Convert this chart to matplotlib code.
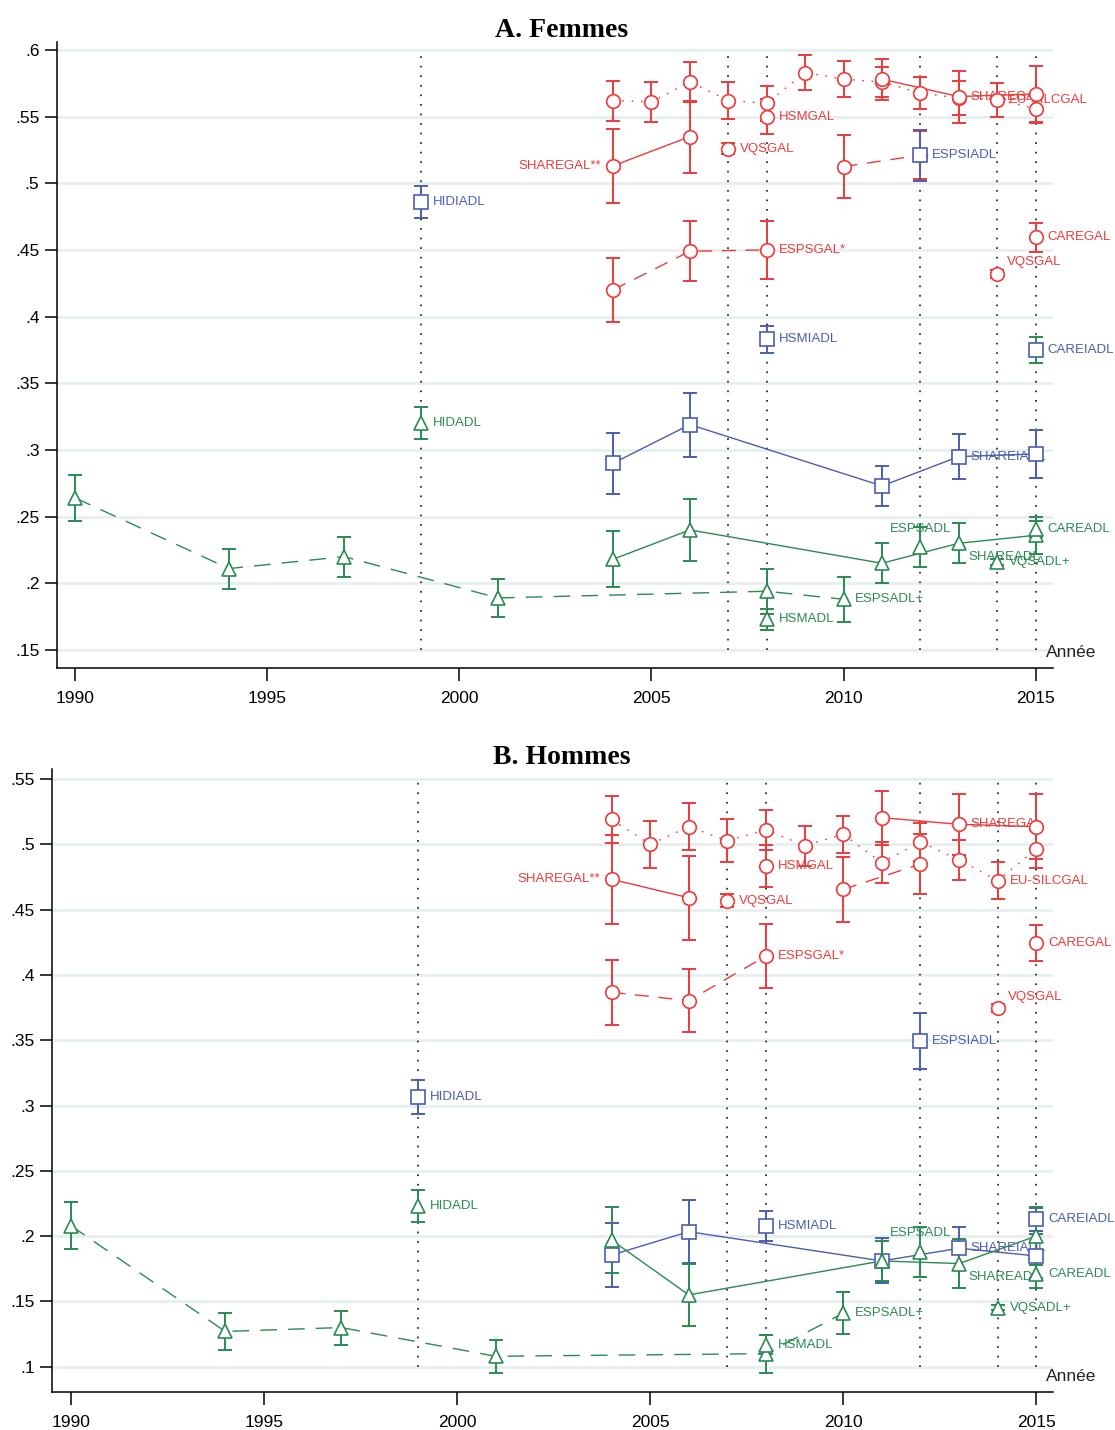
import matplotlib
matplotlib.use("Agg")
import matplotlib.pyplot as plt

plt.rcParams['font.family'] = ['Liberation Sans', 'DejaVu Sans']

# ---------------- data ----------------
YEAR_TICKS = [1990, 1995, 2000, 2005, 2010, 2015]
VLINE_YEARS = [1999, 2007, 2008, 2012, 2014, 2015]

W_YTICKS = [0.15, 0.2, 0.25, 0.3, 0.35, 0.4, 0.45, 0.5, 0.55, 0.6]
W_YTICKLABELS = ['.15', '.2', '.25', '.3', '.35', '.4', '.45', '.5', '.55', '.6']
M_YTICKS = [0.1, 0.15, 0.2, 0.25, 0.3, 0.35, 0.4, 0.45, 0.5, 0.55]
M_YTICKLABELS = ['.1', '.15', '.2', '.25', '.3', '.35', '.4', '.45', '.5', '.55']

ESPS_ADLP_YEARS = [1990, 1994, 1997, 2001, 2008, 2010]
SHARE_YEARS = [2004, 2006, 2011, 2013, 2015]
SHAREGAL_OLD_YEARS = [2004, 2006]
SHAREGAL_YEARS = [2011, 2013, 2015]
EUSILC_YEARS = [2004, 2005, 2006, 2007, 2008, 2009, 2010, 2011, 2012, 2013, 2014, 2015]
ESPSGAL_OLD_YEARS = [2004, 2006, 2008]
ESPSGAL_YEARS = [2010, 2012]
VQSGAL_YEARS = [2007, 2014]

# Femmes
W_ESPSADLP = [0.264, 0.211, 0.220, 0.189, 0.194, 0.188]
W_ESPSADLP_ERR = [0.017, 0.015, 0.015, 0.014, 0.017, 0.017]
W_HIDADL = [0.320]; W_HIDADL_ERR = [0.012]
W_HIDIADL = [0.486]; W_HIDIADL_ERR = [0.012]
W_SHAREADL = [0.218, 0.240, 0.215, 0.230, 0.236]
W_SHAREADL_ERR = [0.021, 0.023, 0.015, 0.015, 0.014]
W_SHAREIADL = [0.290, 0.319, 0.273, 0.295, 0.297]
W_SHAREIADL_ERR = [0.023, 0.024, 0.015, 0.017, 0.018]
W_SHAREGAL_OLD = [0.513, 0.535]; W_SHAREGAL_OLD_ERR = [0.028, 0.027]
W_SHAREGAL = [0.578, 0.565, 0.567]; W_SHAREGAL_ERR = [0.0155, 0.0195, 0.021]
W_EUSILC = [0.562, 0.561, 0.576, 0.562, 0.560, 0.583, 0.578, 0.576, 0.5675, 0.564, 0.5625, 0.556]
W_EUSILC_ERR = [0.015, 0.015, 0.015, 0.014, 0.013, 0.013, 0.0135, 0.011, 0.012, 0.013, 0.0125, 0.011]
W_ESPSGAL_OLD = [0.420, 0.449, 0.450]; W_ESPSGAL_OLD_ERR = [0.024, 0.0225, 0.022]
W_ESPSGAL = [0.5125, 0.521]; W_ESPSGAL_ERR = [0.0235, 0.018]
W_ESPSADL = [0.227]; W_ESPSADL_ERR = [0.015]
W_ESPSIADL = [0.521]; W_ESPSIADL_ERR = [0.019]
W_HSMGAL = [0.550]; W_HSMGAL_ERR = [0.013]
W_HSMIADL = [0.383]; W_HSMIADL_ERR = [0.010]
W_HSMADL = [0.173]; W_HSMADL_ERR = [0.008]
W_VQSGAL = [0.526, 0.432]; W_VQSGAL_ERR = [0.004, 0.003]
W_VQSADLP = [0.216]; W_VQSADLP_ERR = [0.002]
W_CAREGAL = [0.4595]; W_CAREGAL_ERR = [0.011]
W_CAREIADL = [0.375]; W_CAREIADL_ERR = [0.0095]
W_CAREADL = [0.241]; W_CAREADL_ERR = [0.006]

# Hommes
M_ESPSADLP = [0.208, 0.127, 0.130, 0.108, 0.110, 0.141]
M_ESPSADLP_ERR = [0.018, 0.014, 0.013, 0.0125, 0.0145, 0.016]
M_HIDADL = [0.223]; M_HIDADL_ERR = [0.0124]
M_HIDIADL = [0.3065]; M_HIDIADL_ERR = [0.013]
M_SHAREADL = [0.197, 0.155, 0.181, 0.179, 0.200]
M_SHAREADL_ERR = [0.0255, 0.024, 0.015, 0.0187, 0.022]
M_SHAREIADL = [0.1855, 0.2034, 0.181, 0.1907, 0.1848]
M_SHAREIADL_ERR = [0.0243, 0.0242, 0.0172, 0.0165, 0.017]
M_SHAREGAL_OLD = [0.4732, 0.4591]; M_SHAREGAL_OLD_ERR = [0.034, 0.032]
M_SHAREGAL = [0.5204, 0.5153, 0.5135]; M_SHAREGAL_ERR = [0.0207, 0.0232, 0.025]
M_EUSILC = [0.519, 0.500, 0.5135, 0.5028, 0.511, 0.499, 0.5076, 0.486, 0.502, 0.488, 0.4722, 0.4964]
M_EUSILC_ERR = [0.018, 0.018, 0.018, 0.0166, 0.0155, 0.0153, 0.0142, 0.016, 0.0146, 0.0153, 0.0144, 0.0148]
M_ESPSGAL_OLD = [0.3867, 0.3803, 0.4145]; M_ESPSGAL_OLD_ERR = [0.025, 0.0243, 0.0243]
M_ESPSGAL = [0.4655, 0.4849]; M_ESPSGAL_ERR = [0.025, 0.023]
M_ESPSADL = [0.188]; M_ESPSADL_ERR = [0.019]
M_ESPSIADL = [0.3496]; M_ESPSIADL_ERR = [0.0214]
M_HSMGAL = [0.4836]; M_HSMGAL_ERR = [0.016]
M_HSMIADL = [0.2077]; M_HSMIADL_ERR = [0.0115]
M_HSMADL = [0.117]; M_HSMADL_ERR = [0.007]
M_VQSGAL = [0.4568, 0.3744]; M_VQSGAL_ERR = [0.005, 0.003]
M_VQSADLP = [0.1452]; M_VQSADLP_ERR = [0.002]
M_CAREGAL = [0.4242]; M_CAREGAL_ERR = [0.0138]
M_CAREIADL = [0.2128]; M_CAREIADL_ERR = [0.009]
M_CAREADL = [0.1707]; M_CAREADL_ERR = [0.0102]

# ---------------- style ----------------
RED = '#ec3b3b'
BLUE = '#4b5db0'
GREEN = '#2b8a52'
GRID = '#e6efef'

DOT = (0, (1.2, 5.5))
DASH = (0, (10, 7))
LDASH = (0, (12, 8))
LABEL_FS = 9.5
MS = {'o': 9.8, 's': 10.5, '^': 10.3}

OFFS = {'r': ((8.5, 0), 'left', 'center'),
        'l': ((-8.5, 0), 'right', 'center'),
        'a': ((0, 9), 'center', 'bottom'),
        'br': ((7, -10), 'left', 'center'),
        'ur': ((7, 8.5), 'left', 'center')}


def series_list(p):
    g = globals()
    return [
        (ESPS_ADLP_YEARS, g[p + 'ESPSADLP'], g[p + 'ESPSADLP_ERR'], GREEN, GREEN, '^', LDASH, 'ESPSADL+', [(5, 'r')]),
        ([1999], g[p + 'HIDADL'], g[p + 'HIDADL_ERR'], GREEN, GREEN, '^', None, 'HIDADL', [(0, 'r')]),
        ([1999], g[p + 'HIDIADL'], g[p + 'HIDIADL_ERR'], BLUE, BLUE, 's', None, 'HIDIADL', [(0, 'r')]),
        (ESPSGAL_OLD_YEARS, g[p + 'ESPSGAL_OLD'], g[p + 'ESPSGAL_OLD_ERR'], RED, RED, 'o', DASH, 'ESPSGAL*', [(2, 'r')]),
        (ESPSGAL_YEARS, g[p + 'ESPSGAL'], g[p + 'ESPSGAL_ERR'], RED, RED, 'o', DASH, '', []),
        (EUSILC_YEARS, g[p + 'EUSILC'], g[p + 'EUSILC_ERR'], RED, RED, 'o', DOT, 'EU-SILCGAL', [(10, 'r')]),
        (SHAREGAL_OLD_YEARS, g[p + 'SHAREGAL_OLD'], g[p + 'SHAREGAL_OLD_ERR'], RED, RED, 'o', '-', 'SHAREGAL**', [(0, 'l')]),
        (SHAREGAL_YEARS, g[p + 'SHAREGAL'], g[p + 'SHAREGAL_ERR'], RED, RED, 'o', '-', 'SHAREGAL', [(1, 'r')]),
        ([2008], g[p + 'HSMGAL'], g[p + 'HSMGAL_ERR'], RED, RED, 'o', None, 'HSMGAL', [(0, 'r')]),
        (VQSGAL_YEARS, g[p + 'VQSGAL'], g[p + 'VQSGAL_ERR'], RED, RED, 'o', None, 'VQSGAL', [(0, 'r'), (1, 'ur')]),
        ([2015], g[p + 'CAREGAL'], g[p + 'CAREGAL_ERR'], RED, RED, 'o', None, 'CAREGAL', [(0, 'r')]),
        ([2012], g[p + 'ESPSIADL'], g[p + 'ESPSIADL_ERR'], BLUE, BLUE, 's', None, 'ESPSIADL', [(0, 'r')]),
        ([2008], g[p + 'HSMIADL'], g[p + 'HSMIADL_ERR'], BLUE, BLUE, 's', None, 'HSMIADL', [(0, 'r')]),
        ([2015], g[p + 'CAREIADL'], g[p + 'CAREIADL_ERR'], BLUE, GREEN if p == 'W_' else BLUE, 's', None, 'CAREIADL', [(0, 'r')]),
        (SHARE_YEARS, g[p + 'SHAREIADL'], g[p + 'SHAREIADL_ERR'], BLUE, BLUE, 's', '-', 'SHAREIADL', [(3, 'r')]),
        (SHARE_YEARS, g[p + 'SHAREADL'], g[p + 'SHAREADL_ERR'], GREEN, GREEN, '^', '-', 'SHAREADL', [(3, 'br')]),
        ([2012], g[p + 'ESPSADL'], g[p + 'ESPSADL_ERR'], GREEN, GREEN, '^', None, 'ESPSADL', [(0, 'a')]),
        ([2008], g[p + 'HSMADL'], g[p + 'HSMADL_ERR'], GREEN, GREEN, '^', None, 'HSMADL', [(0, 'r')]),
        ([2014], g[p + 'VQSADLP'], g[p + 'VQSADLP_ERR'], GREEN, GREEN, '^', None, 'VQSADL+', [(0, 'r')]),
        ([2015], g[p + 'CAREADL'], g[p + 'CAREADL_ERR'], GREEN, GREEN, '^', None, 'CAREADL', [(0, 'r')]),
    ]


def draw_panel(ax, p, yticks, yticklabels, ylim):
    ax.set_xlim(1989.52, 2015.44)
    ax.set_ylim(*ylim)
    ax.set_yticks(yticks)
    ax.set_yticklabels(yticklabels)
    ax.set_xticks(YEAR_TICKS)
    ax.set_xticklabels([str(y) for y in YEAR_TICKS])
    for yv in yticks:
        ax.axhline(yv, color=GRID, lw=2.0, zorder=0)
    ax.vlines(VLINE_YEARS, min(yticks), max(yticks), colors='#222222',
              linestyles=(0, (1, 4.5)), lw=1.25, zorder=1)
    for i, (xs, ys, es, col, ecol, mk, ls, lab, labs) in enumerate(series_list(p)):
        ax.errorbar(xs, ys, yerr=es, fmt='none', ecolor=ecol, elinewidth=1.4,
                    capsize=5.2, capthick=1.4, zorder=2 + i * 0.01)
        if ls is not None and len(xs) > 1:
            ax.plot(xs, ys, color=col, lw=1.0, linestyle=ls, zorder=2.5)
        ax.plot(xs, ys, marker=mk, linestyle='none', ms=MS[mk], mfc='white',
                mec=col, mew=1.2, zorder=4 + i * 0.01)
        for idx, pos in labs:
            off, ha, va = OFFS[pos]
            ax.annotate(lab, (xs[idx], ys[idx]), xytext=off, textcoords='offset points',
                        ha=ha, va=va, fontsize=LABEL_FS, color=col, zorder=3)
    for s in ['top', 'right']:
        ax.spines[s].set_visible(False)
    for s in ['left', 'bottom']:
        ax.spines[s].set_linewidth(1.1)
    ax.tick_params(axis='both', length=9, width=1.1, labelsize=12.5)
    ax.tick_params(axis='y', pad=3.5)
    ax.tick_params(axis='x', pad=8)
    ax.text(0.993, 0.024, 'Année', transform=ax.transAxes, ha='left', va='center',
            fontsize=12.5, color='#222222')


fig = plt.figure(figsize=(11.15, 14.3), dpi=100)
ax1 = fig.add_axes([0.0509, 0.5331, 0.8931, 0.4378])
ax2 = fig.add_axes([0.0469, 0.0268, 0.8978, 0.4352])

draw_panel(ax1, 'W_', W_YTICKS, W_YTICKLABELS, (0.1367, 0.6062))
draw_panel(ax2, 'M_', M_YTICKS, M_YTICKLABELS, (0.0809, 0.5574))

fig.text(0.504, 0.9787, 'A. Femmes', ha='center', va='center', fontsize=20,
         fontweight='bold', family='Liberation Serif')
fig.text(0.504, 0.4700, 'B. Hommes', ha='center', va='center', fontsize=20,
         fontweight='bold', family='Liberation Serif')

fig.savefig('out.png', dpi=100, facecolor='white')
